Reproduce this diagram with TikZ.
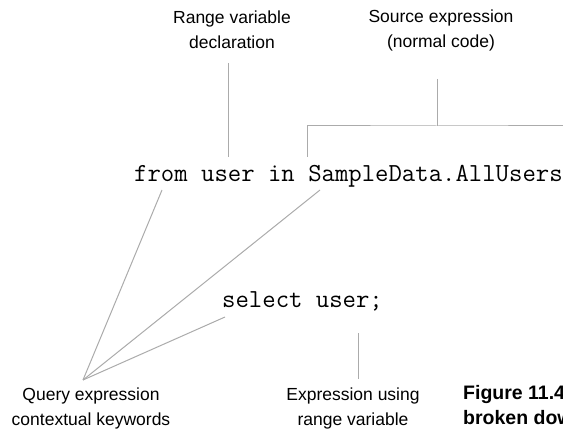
\documentclass[tikz,border=0pt]{standalone}
\usepackage{fontspec}
\setmainfont{Liberation Sans}
\usetikzlibrary{positioning}
\tikzset{
  lbl/.style={font=\fontsize{17.5}{25}\selectfont, align=center, inner sep=0pt},
  code/.style={font=\ttfamily\fontsize{26}{30}\selectfont, inner sep=0pt, anchor=base west},
  figcaption/.style={font=\bfseries\fontsize{19.5}{25}\selectfont, align=left, inner sep=0pt, anchor=west},
  lead/.style={draw=black!33, line width=1pt},
}
\begin{document}
\begin{tikzpicture}[x=1pt,y=-1pt]
  \useasboundingbox (0,0) rectangle (563,433);
  % Code
  \node[code] (fromline) at (134,182) {from user in SampleData.AllUsers};
  \node[code] (selectline) at (222,308) {select user;};

  % Labels
  \node[lbl] (rangelbl) at (232,30) {Range variable\\declaration};
  \node[lbl] (srclbl) at (441,30) {Source expression\\(normal code)};
  \node[lbl] (querylbl) at (91,408.5) {Query expression\\contextual keywords};
  \node[lbl] (exprlbl) at (353,408.5) {Expression using\\range variable};
  \node[figcaption] (figcap) at (463,405) {Figure 11.4\\broken down};

  % Ends
  \coordinate (hub) at (83,380);
  \coordinate (fromtip) at (162,190);
  \coordinate (intip) at (320,190);
  \coordinate (selecttip) at (225,317);
  \coordinate (rangetop) at (228,63);
  \coordinate (rangebot) at (228,157);
  \coordinate (srctop) at (437,79);
  \coordinate (srcmid) at (437,126);
  \coordinate (srcleft) at (307,157);
  \coordinate (srcright) at (575,157);
  \coordinate (exprtop) at (358,333);
  \coordinate (exprbot) at (358,379);

  % Leaders
  \draw[lead] (hub) -- (fromtip);
  \draw[lead] (hub) -- (intip);
  \draw[lead] (hub) -- (selecttip);
  \draw[lead] (rangetop) -- (rangebot);
  \draw[lead] (srctop) -- (srcmid);
  \draw[lead] (srcleft) |- (srcmid) -| (srcright);
  \draw[lead] (exprtop) -- (exprbot);
\end{tikzpicture}
\end{document}
